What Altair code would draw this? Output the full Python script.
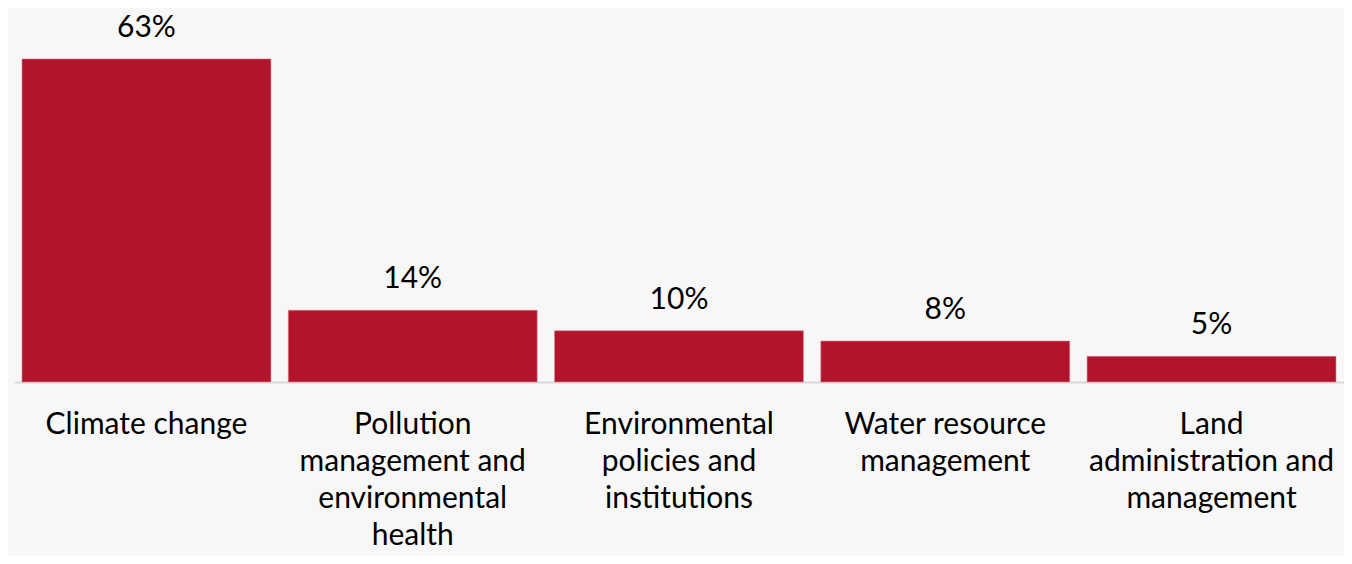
import altair as alt
import pandas as pd

categories = [
    "Climate change",
    "Pollution\nmanagement and\nenvironmental\nhealth",
    "Environmental\npolicies and\ninstitutions",
    "Water resource\nmanagement",
    "Land\nadministration and\nmanagement",
]
values = [63, 14, 10, 8, 5]
labels = ["63%", "14%", "10%", "8%", "5%"]

df = pd.DataFrame({"cat": categories, "val": values, "lab": labels})

FONT = "Lato"

x = alt.X(
    "cat:N",
    sort=categories,
    scale=alt.Scale(paddingInner=0.065, paddingOuter=0.03),
    axis=alt.Axis(
        title=None,
        labelAngle=0,
        labelExpr="split(datum.value, '\\n')",
        labelFont=FONT,
        labelFontSize=30,
        labelColor="#000000",
        labelLineHeight=37,
        labelPadding=51,
        labelBaseline="alphabetic",
        labelLimit=500,
        ticks=False,
        domainColor="#d9d9d9",
        domainWidth=2,
        grid=False,
    ),
)
y = alt.Y("val:Q", scale=alt.Scale(domain=[0, 70]), axis=None)

bars = alt.Chart(df).mark_bar(color="#b2152b", stroke="#d98a96", strokeWidth=0.6).encode(x=x, y=y)
text = alt.Chart(df).mark_text(
    font=FONT, fontSize=30, color="#000000", baseline="alphabetic", dy=-22
).encode(x=x, y=y, text="lab:N")

chart = (
    alt.layer(bars, text)
    .properties(
        width=1330,
        height=359,
        autosize=alt.AutoSizeParams(type="none"),
        padding={"left": 6, "top": 15, "right": 0, "bottom": 174},
        background="#f7f7f7",
    )
    .configure_view(stroke=None)
)

chart.save("out.html", embed_options={"renderer": "svg", "actions": False})
